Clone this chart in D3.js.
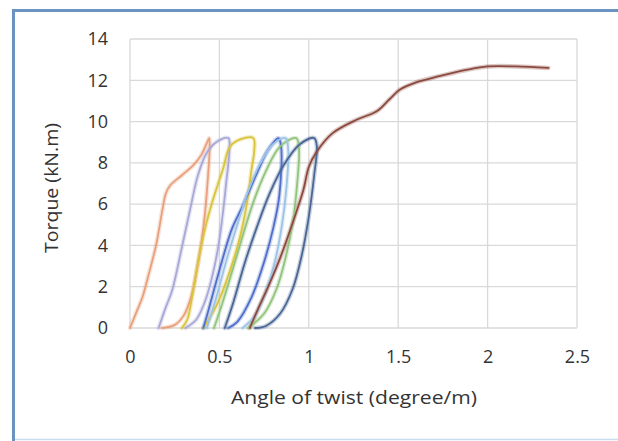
<!DOCTYPE html>
<html>
<head>
<meta charset="utf-8">
<script src="https://cdn.jsdelivr.net/npm/d3@7/dist/d3.min.js"></script>
<style>
  html, body { margin: 0; padding: 0; background: #fff; }
  svg { display: block; }
  text { font-family: "Open Sans", "Liberation Sans", sans-serif; fill: #333333; }
</style>
</head>
<body>
<svg id="chart" width="618" height="441"></svg>
<script>
// ---- data (angle of twist in degree/m, torque in kN.m) ----
const xTicks = [0, 0.5, 1, 1.5, 2, 2.5];
const yTicks = [0, 2, 4, 6, 8, 10, 12, 14];
const xTickLabels = ["0", "0.5", "1", "1.5", "2", "2.5"];
const yTickLabels = ["0", "2", "4", "6", "8", "10", "12", "14"];
const xTitle = "Angle of twist (degree/m)";
const yTitle = "Torque (kN.m)";

const seriesNames = ["Cycle 1", "Cycle 2", "Cycle 3", "Cycle 4", "Cycle 5", "Cycle 6", "Cycle 7", "Final"];
const seriesColors = ["#e9a07c", "#a9a8d8", "#d9c43c", "#4f6fcb", "#93c47d", "#9dc3e6", "#4a6796", "#8c4a3f"];

const cycle1 = [[0,0],[0.04,0.85],[0.07,1.5],[0.10,2.45],[0.147,4.06],[0.18,5.66],[0.20,6.5],[0.224,6.9],[0.29,7.4],[0.356,7.9],[0.40,8.4],[0.432,9.0],[0.443,9.2],
                [0.445,8.6],[0.435,7.2],[0.42,5.6],[0.40,4.2],[0.375,2.9],[0.345,1.6],[0.30,0.6],[0.25,0.15],[0.18,0]];
const cycle2 = [[0.16,0],[0.20,1.0],[0.235,1.8],[0.29,3.9],[0.34,5.9],[0.38,7.4],[0.43,8.5],[0.49,9.05],[0.55,9.2],
                [0.555,8.5],[0.54,7.2],[0.52,5.6],[0.495,4.0],[0.46,2.5],[0.42,1.3],[0.37,0.4],[0.31,0]];
const cycle3 = [[0.29,0],[0.32,0.4],[0.355,1.9],[0.39,3.6],[0.425,5.0],[0.46,6.1],[0.52,7.7],[0.56,8.8],[0.62,9.15],[0.69,9.2],
                [0.695,8.6],[0.68,7.7],[0.655,6.1],[0.615,4.4],[0.56,2.8],[0.49,1.2],[0.44,0.4],[0.41,0]];
const cycle4 = [[0.41,0],[0.44,0.9],[0.50,2.8],[0.57,4.8],[0.63,5.9],[0.71,7.5],[0.77,8.6],[0.83,9.2],
                [0.845,8.8],[0.835,6.4],[0.80,4.8],[0.75,3.2],[0.68,1.5],[0.60,0.3],[0.55,0]];
const cycle5 = [[0.47,0],[0.52,1.3],[0.58,3.0],[0.635,4.6],[0.69,6.1],[0.76,7.6],[0.84,8.8],[0.93,9.2],
                [0.945,8.7],[0.935,7.0],[0.91,5.1],[0.87,3.4],[0.82,1.9],[0.75,0.7],[0.66,0]];
const cycle6 = [[0.43,0],[0.48,1.4],[0.54,3.3],[0.60,5.0],[0.66,6.6],[0.73,8.0],[0.80,8.9],[0.87,9.2],
                [0.885,8.6],[0.875,6.8],[0.85,5.0],[0.81,3.2],[0.76,1.8],[0.70,0.6],[0.63,0]];
const cycle7 = [[0.53,0],[0.58,1.3],[0.64,3.1],[0.71,4.9],[0.78,6.5],[0.86,7.9],[0.95,8.9],[1.03,9.2],
                [1.045,8.8],[1.03,7.4],[1.00,5.4],[0.96,3.5],[0.91,1.9],[0.84,0.7],[0.76,0.1],[0.70,0]];
const finalCurve = [[0.67,0],[0.72,1.0],[0.765,1.85],[0.84,3.4],[0.91,5.1],[0.97,6.7],[1.0,7.8],[1.045,8.55],[1.135,9.45],[1.27,10.1],[1.38,10.5],
                    [1.45,11.07],[1.51,11.55],[1.60,11.9],[1.73,12.2],[1.88,12.5],[2.0,12.67],[2.16,12.67],[2.34,12.6]];

const allSeries = [cycle1, cycle2, cycle3, cycle4, cycle5, cycle6, cycle7, finalCurve];

// ---- layout ----
const svg = d3.select("#chart");
const W = 618, H = 441;
const x = d3.scaleLinear().domain([0, 2.5]).range([130, 577]);
const y = d3.scaleLinear().domain([0, 14]).range([328, 39]);

svg.append("rect").attr("width", W).attr("height", H).attr("fill", "#ffffff");

// frame (left + top strong, bottom faint)
svg.append("line").attr("x1", 13.5).attr("y1", 9).attr("x2", 13.5).attr("y2", H).attr("stroke", "#6a93c2").attr("stroke-width", 3);
svg.append("line").attr("x1", 12).attr("y1", 10.5).attr("x2", W).attr("y2", 10.5).attr("stroke", "#6a93c2").attr("stroke-width", 3);
svg.append("line").attr("x1", 15).attr("y1", 439.5).attr("x2", W).attr("y2", 439.5).attr("stroke", "#c9dcf0").attr("stroke-width", 1.5);

// gridlines
const grid = svg.append("g").attr("class", "grid");
grid.selectAll("line.h").data(yTicks).enter().append("line")
  .attr("x1", x(0)).attr("x2", x(2.5))
  .attr("y1", d => y(d)).attr("y2", d => y(d))
  .attr("stroke", "#d9d9d9").attr("stroke-width", 1.3);
grid.selectAll("line.v").data(xTicks).enter().append("line")
  .attr("x1", d => x(d)).attr("x2", d => x(d))
  .attr("y1", y(0)).attr("y2", y(14))
  .attr("stroke", "#d9d9d9").attr("stroke-width", 1.3);

// axes (labels only)
const xAxis = d3.axisBottom(x).tickValues(xTicks).tickFormat((d, i) => xTickLabels[i]).tickSize(0).tickPadding(0);
const yAxis = d3.axisLeft(y).tickValues(yTicks).tickFormat((d, i) => yTickLabels[i]).tickSize(0).tickPadding(0);

const gx = svg.append("g").attr("transform", "translate(0,350)").call(xAxis);
gx.select(".domain").remove();
gx.selectAll("text").attr("font-size", 18).attr("fill", "#333333").attr("dy", "0.71em")
  .style("font-family", '"Open Sans", sans-serif');

const gy = svg.append("g").attr("transform", "translate(108,0)").call(yAxis);
gy.select(".domain").remove();
gy.selectAll("text").attr("font-size", 18).attr("fill", "#333333")
  .style("font-family", '"Open Sans", sans-serif');

// titles
svg.append("text").attr("x", 354).attr("y", 404).attr("text-anchor", "middle")
  .attr("font-size", 18).attr("textLength", 246).attr("lengthAdjust", "spacingAndGlyphs")
  .text(xTitle);
svg.append("text").attr("transform", "translate(58,188) rotate(-90)").attr("text-anchor", "middle")
  .attr("font-size", 18).attr("textLength", 130).attr("lengthAdjust", "spacingAndGlyphs")
  .text(yTitle);

// curves
const line = d3.line().x(d => x(d[0])).y(d => y(d[1])).curve(d3.curveCatmullRom.alpha(0.5));
const plot = svg.append("g");
allSeries.forEach((s, i) => {
  // soft halo to imitate the blurred original
  plot.append("path").attr("d", line(s)).attr("fill", "none")
    .attr("stroke", seriesColors[i]).attr("stroke-opacity", 0.3).attr("stroke-width", 4.5)
    .attr("stroke-linejoin", "round").attr("stroke-linecap", "round");
});
allSeries.forEach((s, i) => {
  plot.append("path").attr("d", line(s)).attr("fill", "none")
    .attr("stroke", seriesColors[i]).attr("stroke-width", 1.8)
    .attr("stroke-linejoin", "round").attr("stroke-linecap", "round")
    .append("title").text(seriesNames[i]);
});
</script>
</body>
</html>
